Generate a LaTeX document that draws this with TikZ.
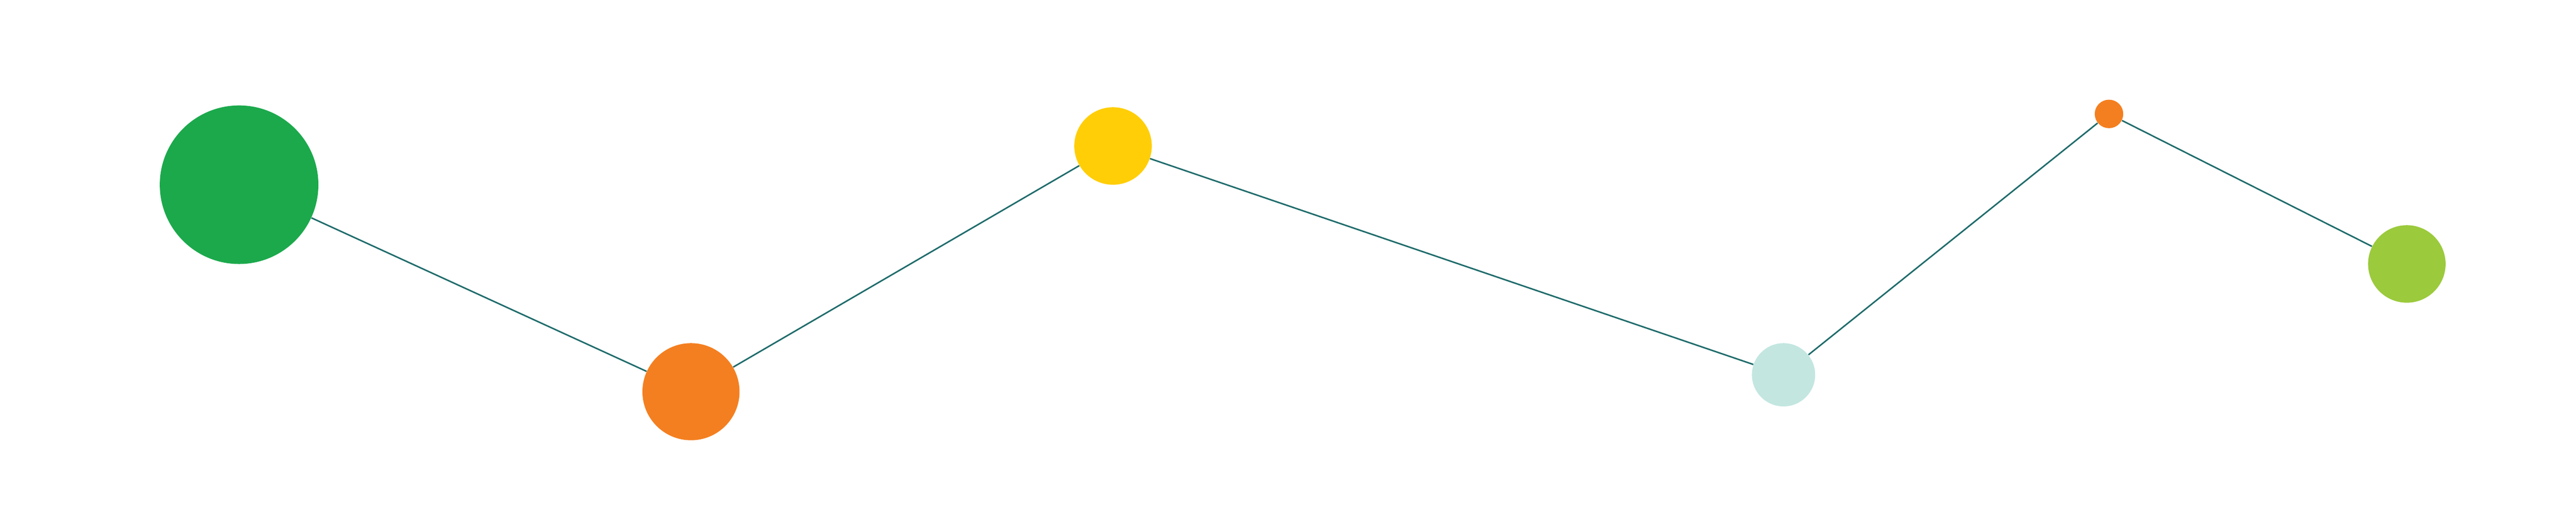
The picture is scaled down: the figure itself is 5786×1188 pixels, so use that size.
\documentclass[tikz,border=0pt]{standalone}
\usepackage{xcolor}
\definecolor{dotgreen}{HTML}{1BA94C}
\definecolor{dotorange}{HTML}{F47F20}
\definecolor{dotyellow}{HTML}{FFCE07}
\definecolor{dotmint}{HTML}{C3E6E0}
\definecolor{dotlime}{HTML}{9BCA3C}
\definecolor{linkteal}{HTML}{1F6B6B}
\begin{document}
\begin{tikzpicture}[x=0.01cm,y=0.01cm]
	\tikzset{vertex/.style = {shape=circle,inner sep=0pt,draw=none}}
	\tikzset{edge/.style = {-,draw=linkteal,line width=0.95pt}}
	\useasboundingbox (0,0) rectangle (5786,1188);
    % vertices
    \node[vertex,fill=dotgreen,minimum size=3.56cm] (a) at (537,773) {};
    \node[vertex,fill=dotorange,minimum size=2.18cm] (b) at (1552,308) {};
    \node[vertex,fill=dotyellow,minimum size=1.74cm] (c) at (2500,860) {};
    \node[vertex,fill=dotmint,minimum size=1.42cm] (d) at (4006,346) {};
    \node[vertex,fill=dotorange,minimum size=0.64cm] (e) at (4737,932) {};
    \node[vertex,fill=dotlime,minimum size=1.74cm] (f) at (5406,595) {};
    %edges
	\draw[edge] (a) -- (b);
	\draw[edge] (b) -- (c);
	\draw[edge] (c) -- (d);
	\draw[edge] (d) -- (e);
	\draw[edge] (e) -- (f);
\end{tikzpicture}
\end{document}
